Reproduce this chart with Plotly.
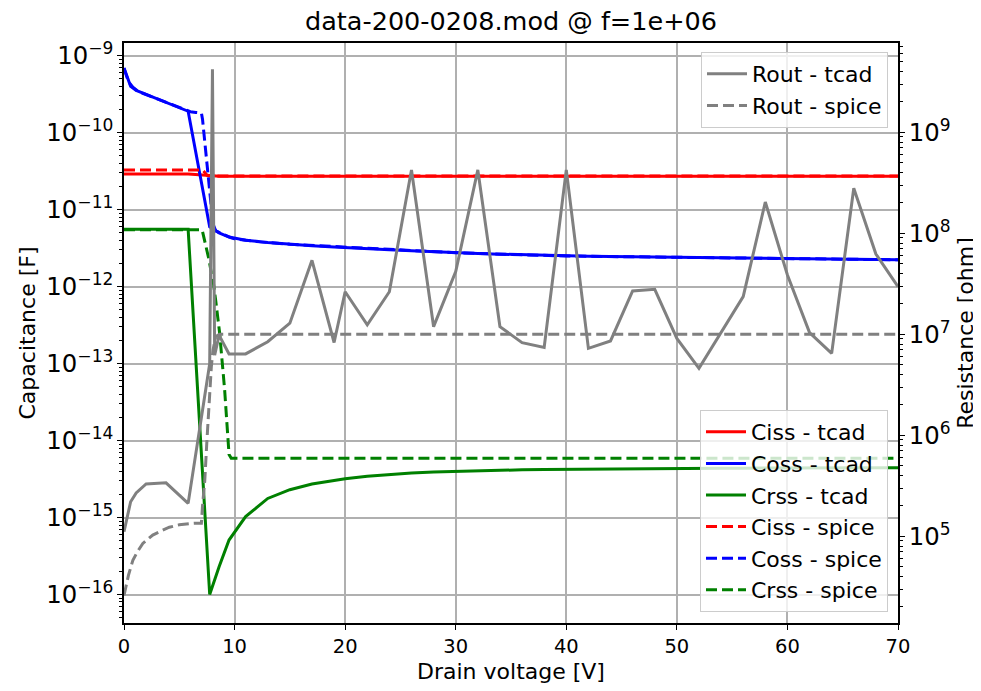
import plotly.graph_objects as go

# ---------------- data ----------------
v_tcad = [0, 0.6, 1.1, 2, 3.8, 5.8, 7.75, 8.0, 8.2, 8.6, 9.5, 11, 13, 15, 17, 19, 20,
          22, 24, 26, 28, 30, 32, 34, 36, 38, 40, 42, 44, 46, 48, 50, 52, 54, 56, 58,
          60, 62, 64, 66, 68, 70]
ciss_tcad = [2.9e-11, 2.9e-11, 2.9e-11, 2.9e-11, 2.9e-11, 2.9e-11, 2.78e-11, 2.75e-11,
             2.73e-11, 2.72e-11, 2.72e-11, 2.72e-11, 2.72e-11, 2.72e-11, 2.72e-11,
             2.72e-11, 2.72e-11, 2.72e-11, 2.72e-11, 2.72e-11, 2.72e-11, 2.72e-11,
             2.72e-11, 2.72e-11, 2.72e-11, 2.72e-11, 2.72e-11, 2.72e-11, 2.72e-11,
             2.72e-11, 2.72e-11, 2.72e-11, 2.72e-11, 2.72e-11, 2.72e-11, 2.72e-11,
             2.72e-11, 2.72e-11, 2.72e-11, 2.72e-11, 2.72e-11, 2.72e-11]
coss_tcad = [6.9e-10, 4.0e-10, 3.55e-10, 3.16e-10, 2.45e-10, 1.9e-10, 6.0e-12, 5.7e-12,
             5.5e-12, 5.0e-12, 4.4e-12, 4.0e-12, 3.75e-12, 3.55e-12, 3.4e-12, 3.28e-12,
             3.24e-12, 3.12e-12, 3.02e-12, 2.93e-12, 2.83e-12, 2.76e-12, 2.7e-12,
             2.64e-12, 2.59e-12, 2.55e-12, 2.5e-12, 2.48e-12, 2.46e-12, 2.44e-12,
             2.42e-12, 2.4e-12, 2.38e-12, 2.36e-12, 2.34e-12, 2.32e-12, 2.3e-12,
             2.28e-12, 2.26e-12, 2.25e-12, 2.24e-12, 2.23e-12]
crss_tcad = [5.57e-12, 5.57e-12, 5.57e-12, 5.57e-12, 5.57e-12, 5.57e-12, 1.0e-16, 1.3e-16,
             1.6e-16, 2.3e-16, 5.1e-16, 1.03e-15, 1.77e-15, 2.3e-15, 2.72e-15, 3.05e-15,
             3.2e-15, 3.45e-15, 3.65e-15, 3.8e-15, 3.92e-15, 4.0e-15, 4.07e-15, 4.12e-15,
             4.17e-15, 4.2e-15, 4.23e-15, 4.26e-15, 4.28e-15, 4.3e-15, 4.32e-15, 4.34e-15,
             4.36e-15, 4.37e-15, 4.38e-15, 4.4e-15, 4.41e-15, 4.42e-15, 4.43e-15,
             4.44e-15, 4.45e-15, 4.45e-15]
rout_tcad = [1.11e5, 2.2e5, 2.69e5, 3.3e5, 3.39e5, 2.12e5, 5.1e6, 4.2e9, 6.2e6, 9.8e6,
             6.4e6, 6.4e6, 8.45e6, 1.29e7, 5.4e7, 8.3e6, 2.64e7, 1.24e7, 2.64e7, 4.24e8,
             1.19e7, 4.17e7, 4.24e8, 1.19e7, 8.26e6, 7.42e6, 4.24e8, 7.26e6, 8.6e6,
             2.69e7, 2.79e7, 9.1e6, 4.6e6, 1.04e7, 2.36e7, 2.04e8, 3.87e7, 1.04e7,
             6.48e6, 2.79e8, 6.24e7, 2.96e7]

v_spice = [0, 0.2, 0.4, 0.8, 1.2, 1.7, 2.6, 3.5, 4.1, 5, 5.6, 6, 6.5, 7.0, 7.1, 7.3, 7.5,
           7.7, 7.9, 8.05, 8.3, 8.65, 9.1, 9.4, 9.5, 9.7, 10, 12, 15, 20, 25, 30, 35, 40,
           45, 50, 55, 60, 65, 70]
ciss_spice = [3.28e-11, 3.28e-11, 3.28e-11, 3.28e-11, 3.28e-11, 3.28e-11, 3.28e-11,
              3.28e-11, 3.28e-11, 3.28e-11, 3.28e-11, 3.28e-11, 3.28e-11, 3.28e-11,
              3.28e-11, 3.05e-11, 2.8e-11, 2.74e-11, 2.73e-11, 2.73e-11, 2.73e-11,
              2.73e-11, 2.73e-11, 2.73e-11, 2.73e-11, 2.73e-11, 2.73e-11, 2.73e-11,
              2.73e-11, 2.73e-11, 2.73e-11, 2.73e-11, 2.73e-11, 2.73e-11, 2.73e-11,
              2.73e-11, 2.73e-11, 2.73e-11, 2.73e-11, 2.73e-11]
coss_spice = [6.9e-10, 5.5e-10, 4.6e-10, 3.9e-10, 3.5e-10, 3.25e-10, 2.9e-10, 2.55e-10,
              2.38e-10, 2.12e-10, 1.95e-10, 1.87e-10, 1.83e-10, 1.8e-10, 1.5e-10,
              7.4e-11, 4.1e-11, 2.2e-11, 1.1e-11, 6.5e-12, 5.3e-12, 5.0e-12, 4.7e-12,
              4.5e-12, 4.4e-12, 4.3e-12, 4.17e-12, 3.85e-12, 3.55e-12, 3.24e-12,
              2.98e-12, 2.76e-12, 2.62e-12, 2.5e-12, 2.45e-12, 2.4e-12, 2.35e-12,
              2.3e-12, 2.26e-12, 2.23e-12]
crss_spice = [5.5e-12, 5.5e-12, 5.5e-12, 5.5e-12, 5.5e-12, 5.5e-12, 5.5e-12, 5.5e-12,
              5.5e-12, 5.5e-12, 5.5e-12, 5.5e-12, 5.5e-12, 5.5e-12, 5.2e-12, 4.0e-12,
              3.1e-12, 2.2e-12, 1.5e-12, 1.22e-12, 6.5e-13, 2.5e-13, 4.6e-14, 1.0e-14,
              6.6e-15, 5.9e-15, 5.9e-15, 5.9e-15, 5.9e-15, 5.9e-15, 5.9e-15, 5.9e-15,
              5.9e-15, 5.9e-15, 5.9e-15, 5.9e-15, 5.9e-15, 5.9e-15, 5.9e-15, 5.9e-15]
rout_spice = [2.6e4, 3.4e4, 4.1e4, 5.8e4, 7.0e4, 8.5e4, 1.03e5, 1.15e5, 1.23e5, 1.3e5,
              1.33e5, 1.34e5, 1.35e5, 1.35e5, 2.0e5, 3.5e5, 8.9e5, 2.1e6, 4.8e6, 7.0e6,
              9.5e6, 1.0e7, 1.0e7, 1.0e7, 1.0e7, 1.0e7, 1.0e7, 1.0e7, 1.0e7, 1.0e7,
              1.0e7, 1.0e7, 1.0e7, 1.0e7, 1.0e7, 1.0e7, 1.0e7, 1.0e7, 1.0e7, 1.0e7]

title_text = "data-200-0208.mod @ f=1e+06"
x_label = "Drain voltage [V]"
y1_label = "Capacitance [F]"
y2_label = "Resistance [ohm]"

# ---------------- figure ----------------
FONT = "DejaVu Sans"
LW = 3
DASH = "11px,5px"
FS = 22
TFS = 19.5

fig = go.Figure()

cap_series = [
    ("Ciss - tcad", v_tcad, ciss_tcad, "#ff0000", "solid"),
    ("Coss - tcad", v_tcad, coss_tcad, "#0000ff", "solid"),
    ("Crss - tcad", v_tcad, crss_tcad, "#008000", "solid"),
    ("Ciss - spice", v_spice, ciss_spice, "#ff0000", DASH),
    ("Coss - spice", v_spice, coss_spice, "#0000ff", DASH),
    ("Crss - spice", v_spice, crss_spice, "#008000", DASH),
]
for name, xs, ys, col, dash in cap_series:
    fig.add_trace(go.Scatter(x=xs, y=ys, name=name, mode="lines",
                             line=dict(color=col, width=LW, dash=dash),
                             yaxis="y", legend="legend"))

fig.add_trace(go.Scatter(x=v_tcad, y=rout_tcad, name="Rout - tcad", mode="lines",
                         line=dict(color="#808080", width=LW), yaxis="y2",
                         legend="legend2"))
fig.add_trace(go.Scatter(x=v_spice, y=rout_spice, name="Rout - spice", mode="lines",
                         line=dict(color="#808080", width=LW, dash=DASH), yaxis="y2",
                         legend="legend2"))

axis_font = dict(family=FONT, size=FS, color="black")
tick_font = dict(family=FONT, size=TFS, color="black")

# page body adds an 8px offset; the figure is sized so the plot area lands
# at x 124..898, y 43..623 of the 981x691 window
fig.update_layout(
    width=973, height=683,
    margin=dict(l=116, r=83, t=35, b=68, autoexpand=False),
    paper_bgcolor="white", plot_bgcolor="white",
    font=dict(family=FONT, size=FS, color="black"),
    title=dict(text=title_text, x=(116 + 890) / 2 / 973, xanchor="center",
               y=1 - 13 / 683, yanchor="middle",
               font=dict(family=FONT, size=25.5, color="black")),
    showlegend=True,
    xaxis=dict(range=[0, 70], dtick=10, showgrid=True, gridcolor="#b0b0b0",
               gridwidth=1.5, zeroline=False, showline=True, linecolor="black",
               linewidth=1.5, mirror=True, ticks="outside", ticklen=5,
               tickcolor="black", tickfont=tick_font, automargin=False,
               title=dict(text=x_label, font=axis_font, standoff=6)),
    yaxis=dict(type="log", range=[-16.37, -8.835], dtick=1, exponentformat="power",
               showgrid=True, gridcolor="#b0b0b0", gridwidth=1.5, zeroline=False,
               showline=True, linecolor="black", linewidth=1.5, ticks="outside",
               ticklen=5, tickcolor="black", tickfont=tick_font, automargin=False,
               minor=dict(ticks="outside", ticklen=3, tickcolor="black", showgrid=False),
               title=dict(text=y1_label, font=axis_font, standoff=5)),
    yaxis2=dict(type="log", range=[4.142, 9.884], dtick=1, exponentformat="power",
                overlaying="y", side="right", showgrid=False, zeroline=False,
                showline=True, linecolor="black", linewidth=1.5, ticks="outside",
                ticklen=5, tickcolor="black", tickfont=tick_font, automargin=False,
                minor=dict(ticks="outside", ticklen=3, tickcolor="black", showgrid=False),
                title=dict(text=y2_label, font=axis_font, standoff=8)),
    legend=dict(x=(888 - 124) / 774, y=(623 - 612) / 580, xanchor="right",
                yanchor="bottom",
                bgcolor="rgba(255,255,255,0.8)", bordercolor="#cccccc", borderwidth=1,
                font=dict(family=FONT, size=FS, color="black"), traceorder="normal",
                itemwidth=40),
    legend2=dict(x=(888 - 124) / 774, y=(623 - 52) / 580, xanchor="right",
                 yanchor="top",
                 bgcolor="rgba(255,255,255,0.8)", bordercolor="#cccccc", borderwidth=1,
                 font=dict(family=FONT, size=FS, color="black"), traceorder="normal",
                 itemwidth=40),
)

fig.write_html("out.html")
